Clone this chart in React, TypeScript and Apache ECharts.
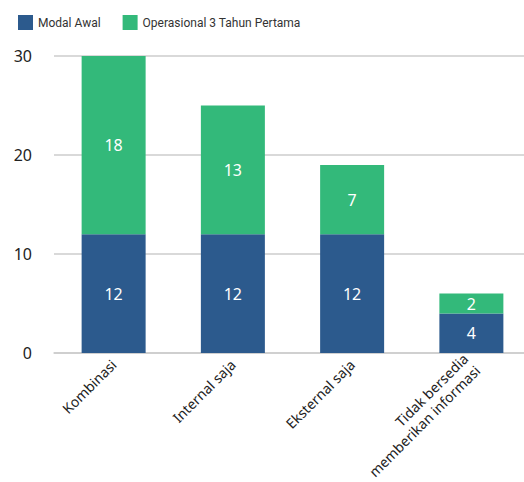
import React, { useEffect, useRef } from "react";
import * as echarts from "echarts";

const categories = ["Kombinasi", "Internal saja", "Eksternal saja", "Tidak bersedia\nmemberikan informasi"];
const modalAwal = [12, 12, 12, 4];
const operasional = [18, 13, 7, 2];
const seriesNames = ["Modal Awal", "Operasional 3 Tahun Pertama"];

export default function App() {
  const ref = useRef<HTMLDivElement>(null);
  useEffect(() => {
    const chart = echarts.init(ref.current!, null, { renderer: "svg" });
    const font = "'Noto Sans', sans-serif";
    chart.setOption({
      animation: false,
      textStyle: { fontFamily: font },
      legend: {
        left: 13,
        top: 10,
        itemWidth: 15,
        itemHeight: 15,
        itemGap: 22,
        icon: "rect",
        textStyle: { fontSize: 12, color: "#333", fontFamily: "Roboto, sans-serif" },
        data: seriesNames,
      },
      grid: { left: 54, top: 56, right: -7, bottom: 129, containLabel: false, outerBoundsMode: "none" },
      xAxis: {
        type: "category",
        data: categories,
        axisTick: { show: false },
        axisLine: { show: true, lineStyle: { color: "#ccc", width: 1.5 } },
        axisLabel: {
          rotate: 45,
          interval: 0,
          fontSize: 14,
          color: "#222",
          margin: 9,
          fontFamily: font,
          lineHeight: 17,
        },
      },
      yAxis: {
        type: "value",
        min: 0,
        max: 30,
        interval: 10,
        axisLine: { show: false },
        axisTick: { show: false },
        splitLine: { lineStyle: { color: "#ccc", width: 1.5 } },
        axisLabel: { fontSize: 16, color: "#222", margin: 22, fontFamily: font },
      },
      series: [
        {
          name: seriesNames[0],
          type: "bar",
          stack: "total",
          data: modalAwal,
          barWidth: 64,
          itemStyle: { color: "#2c5a8d" },
          label: { show: true, position: "inside", color: "#fff", fontSize: 16, fontFamily: font },
        },
        {
          name: seriesNames[1],
          type: "bar",
          stack: "total",
          data: operasional,
          barWidth: 64,
          itemStyle: { color: "#33b97a" },
          label: { show: true, position: "inside", color: "#fff", fontSize: 16, fontFamily: font },
        },
      ],
    });
    return () => chart.dispose();
  }, []);
  return (
    <div
      ref={ref}
      style={{ position: "absolute", left: 0, top: 0, width: 524, height: 482 }}
    />
  );
}
